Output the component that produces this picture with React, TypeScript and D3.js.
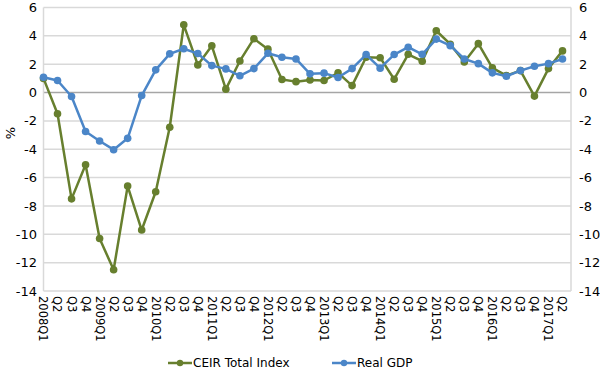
import React from "react";
import * as d3 from "d3";

const width = 600;
const height = 371;

const quarters = [
  "2008Q1", "Q2", "Q3", "Q4",
  "2009Q1", "Q2", "Q3", "Q4",
  "2010Q1", "Q2", "Q3", "Q4",
  "2011Q1", "Q2", "Q3", "Q4",
  "2012Q1", "Q2", "Q3", "Q4",
  "2013Q1", "Q2", "Q3", "Q4",
  "2014Q1", "Q2", "Q3", "Q4",
  "2015Q1", "Q2", "Q3", "Q4",
  "2016Q1", "Q2", "Q3", "Q4",
  "2017Q1", "Q2",
];

const ceir = [
  1.0, -1.5, -7.5, -5.1, -10.3, -12.5, -6.6, -9.7,
  -7.0, -2.45, 4.78, 1.95, 3.3, 0.24, 2.23, 3.8,
  3.06, 0.92, 0.77, 0.89, 0.85, 1.39, 0.49, 2.49,
  2.46, 0.94, 2.7, 2.21, 4.36, 3.41, 2.16, 3.45,
  1.74, 1.2, 1.55, -0.25, 1.69, 2.94,
];

const gdp = [
  1.08, 0.85, -0.28, -2.75, -3.42, -4.03, -3.23, -0.21,
  1.6, 2.73, 3.09, 2.75, 1.9, 1.67, 1.18, 1.69,
  2.77, 2.49, 2.37, 1.32, 1.37, 1.06, 1.69, 2.68,
  1.72, 2.68, 3.2, 2.7, 3.77, 3.31, 2.37, 2.04,
  1.39, 1.15, 1.55, 1.86, 2.04, 2.37,
];

const yTicks = [6, 4, 2, 0, -2, -4, -6, -8, -10, -12, -14];

const green = "#677f2e";
const blue = "#4b86c8";
const font = "'DejaVu Sans', Verdana, sans-serif";

export default function App() {
  const plotLeft = 43.5;
  const plotRight = 571;
  const x = d3
    .scalePoint<string>()
    .domain(quarters.map((q, i) => String(i)))
    .range([43.5, 562.5]);
  const y = d3.scaleLinear().domain([-14, 6]).range([291, 7.5]);

  const line = d3
    .line<number>()
    .x((d, i) => x(String(i)) as number)
    .y((d) => y(d));

  const series = [
    { name: "CEIR Total Index", values: ceir, color: green },
    { name: "Real GDP", values: gdp, color: blue },
  ];

  return (
    <div style={{ position: "absolute", left: 0, top: 0 }}>
      <svg width={width} height={height} style={{ display: "block" }}>
        <rect width={width} height={height} fill="#fff" />
        {yTicks.map((t) => (
          <line
            key={t}
            x1={plotLeft}
            x2={plotRight}
            y1={y(t)}
            y2={y(t)}
            stroke={t === 0 ? "#a6a6a6" : "#d9d9d9"}
            strokeWidth={1.5}
          />
        ))}
        <line x1={plotLeft} x2={plotLeft} y1={y(6)} y2={y(-14)} stroke="#d9d9d9" strokeWidth={1.5} />
        <line x1={plotRight} x2={plotRight} y1={y(6)} y2={y(-14)} stroke="#d9d9d9" strokeWidth={1.5} />

        {yTicks.map((t) => (
          <g key={"l" + t} fontFamily={font} fontSize={13} fill="#000">
            <text x={37} y={y(t)} dy="0.35em" textAnchor="end">
              {t}
            </text>
            <text x={579} y={y(t)} dy="0.35em" textAnchor="start">
              {t}
            </text>
          </g>
        ))}

        <text
          transform="translate(10,133) rotate(-90)"
          textAnchor="middle"
          dy="0.35em"
          fontFamily={font}
          fontSize={13}
        >
          %
        </text>

        {quarters.map((q, i) => (
          <text
            key={"x" + i}
            transform={`translate(${x(String(i))},296) rotate(90)`}
            dy="0.35em"
            textAnchor="start"
            fontFamily={font}
            fontSize={11.5}
          >
            {q}
          </text>
        ))}

        {series.map((s) => (
          <g key={s.name}>
            <path
              d={line(s.values) || ""}
              fill="none"
              stroke={s.color}
              strokeWidth={2.5}
              strokeLinejoin="round"
            />
            {s.values.map((v, i) => (
              <circle key={i} cx={x(String(i))} cy={y(v)} r={3.8} fill={s.color} />
            ))}
          </g>
        ))}

        {series.map((s, k) => {
          const lx = k === 0 ? 168 : 332;
          return (
            <g key={"lg" + k}>
              <line x1={lx} x2={lx + 24} y1={363} y2={363} stroke={s.color} strokeWidth={2.5} />
              <circle cx={lx + 12} cy={363} r={3.2} fill={s.color} />
              <text
                x={lx + 25}
                y={363}
                dy="0.35em"
                fontFamily={font}
                fontSize={12}
              >
                {s.name}
              </text>
            </g>
          );
        })}
      </svg>
    </div>
  );
}
